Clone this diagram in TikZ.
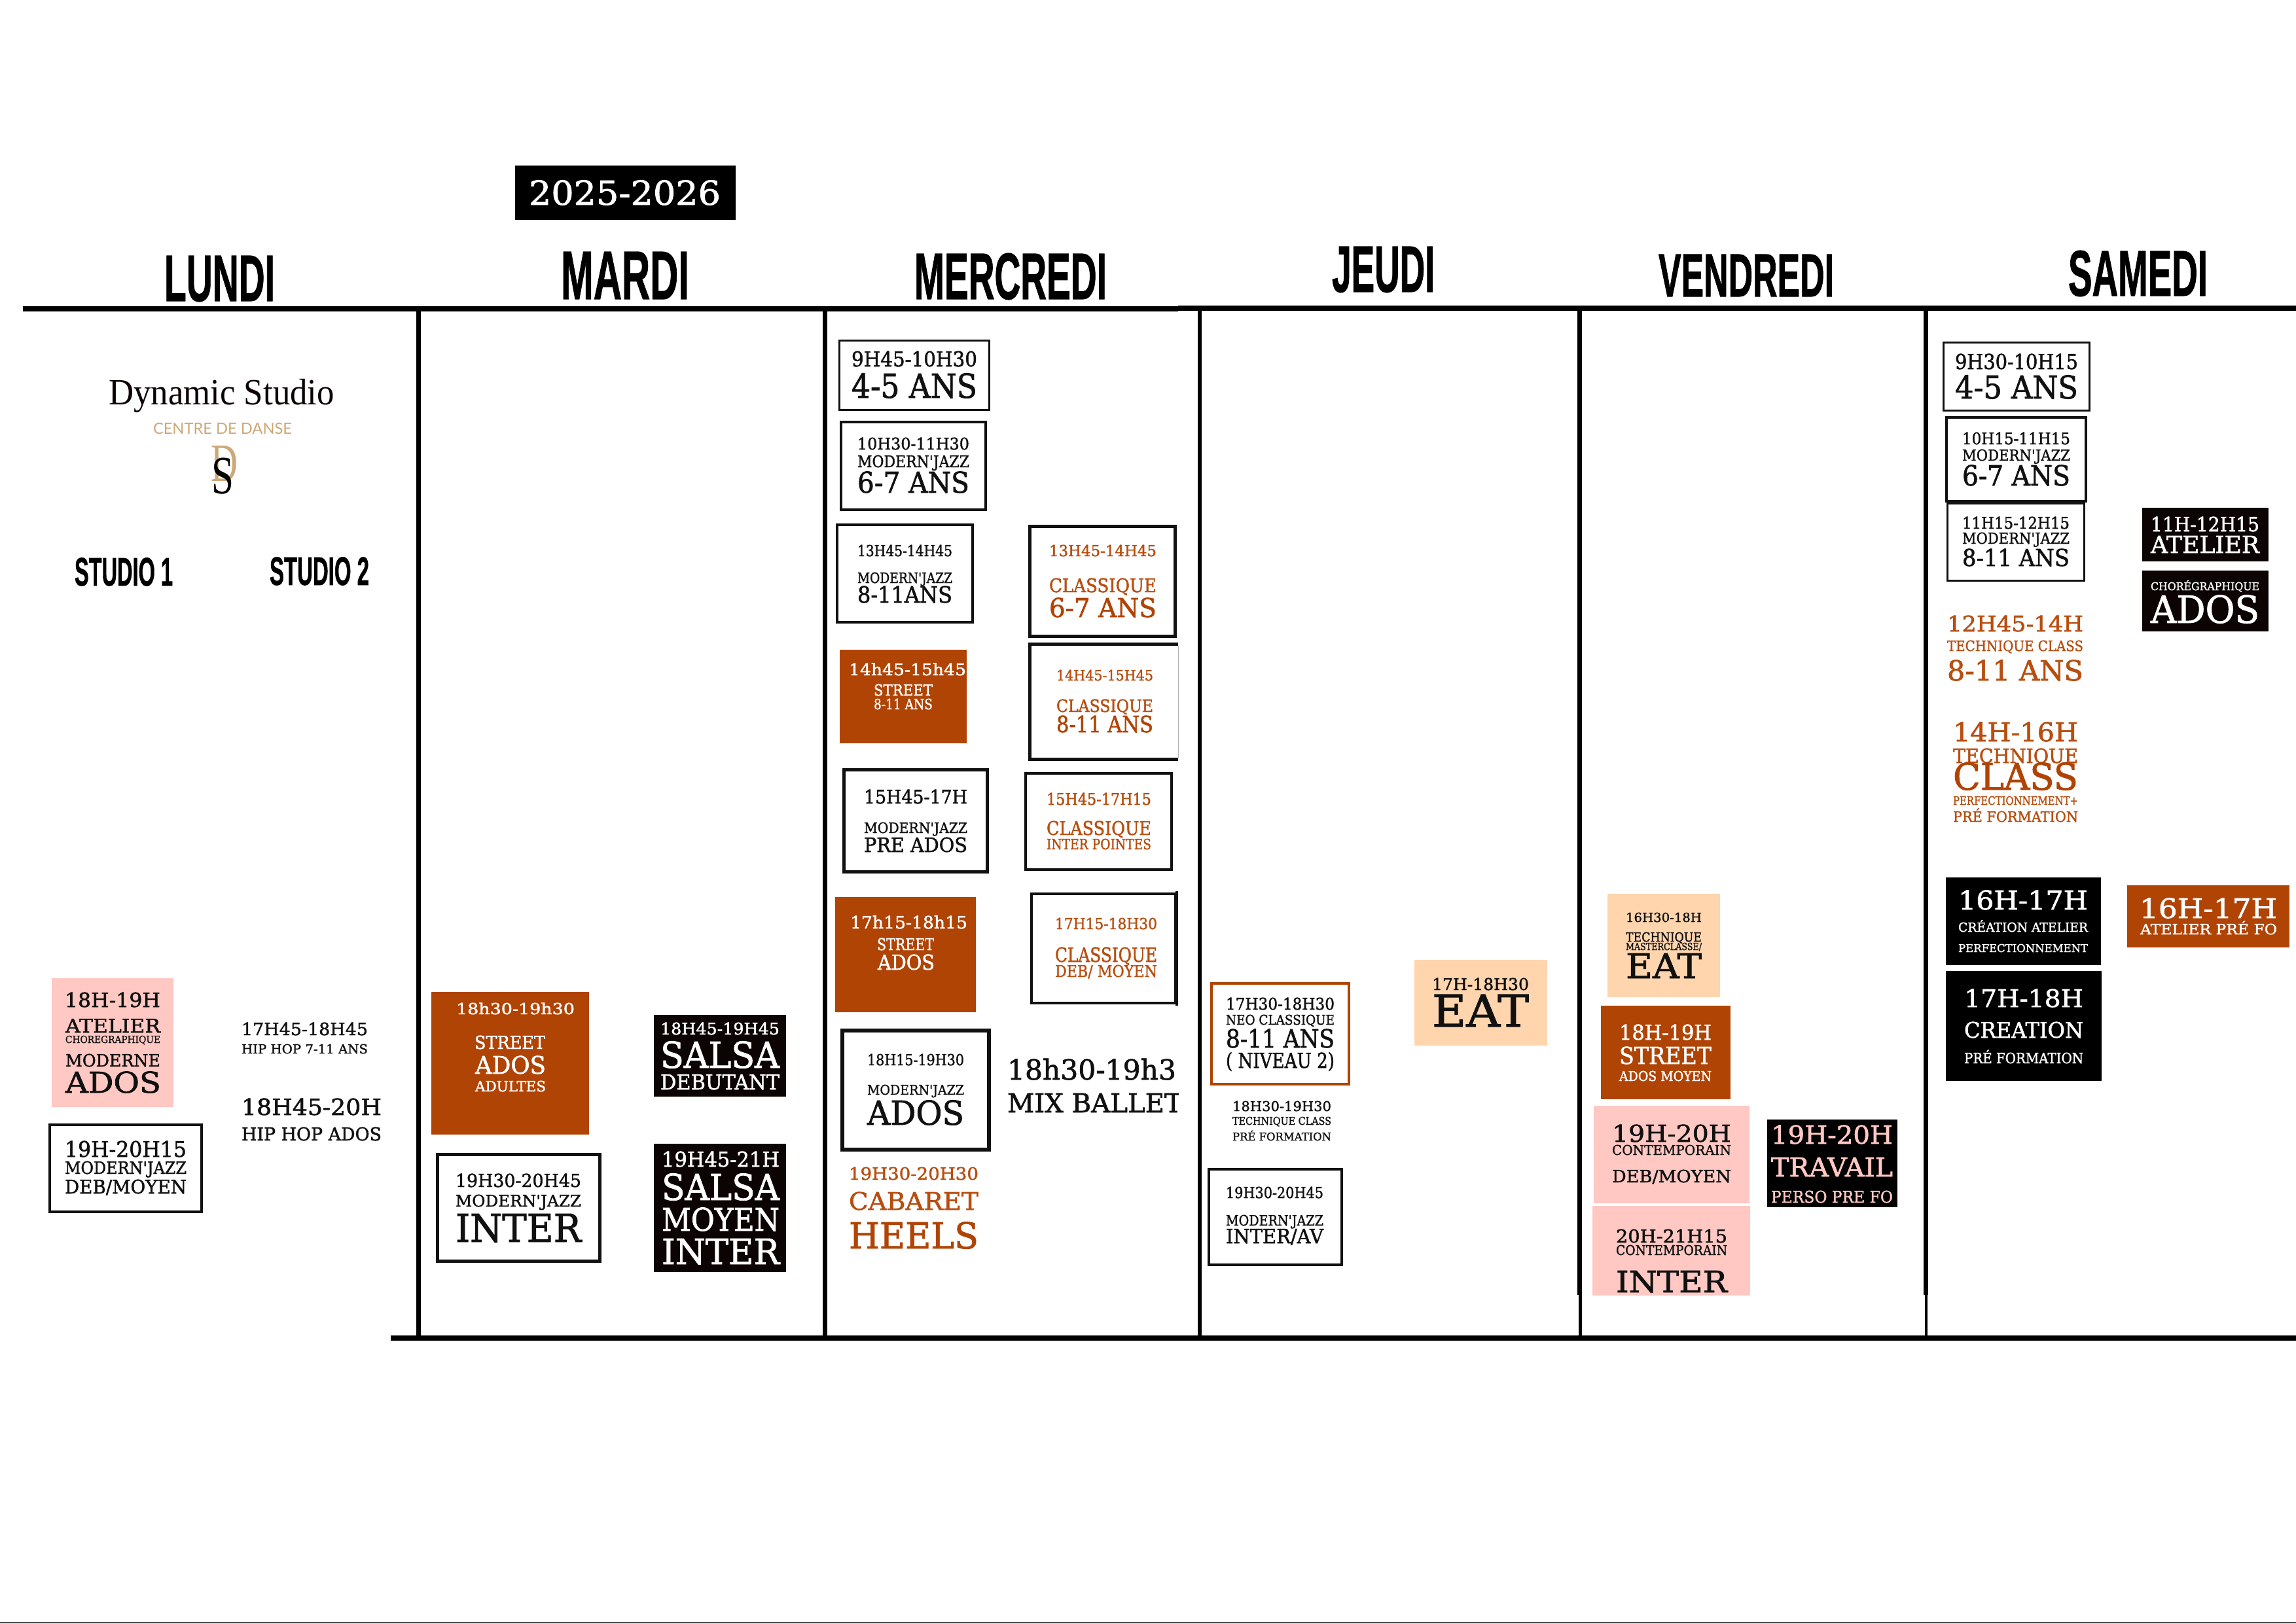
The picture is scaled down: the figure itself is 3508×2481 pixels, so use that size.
\documentclass[tikz,border=0pt]{standalone}
\usepackage{fontspec}
\usepackage{graphicx}
\newfontfamily\sr{DejaVu Serif}[FakeBold=1.6]
\newfontfamily\hd{Liberation Sans}[BoldFont={Liberation Sans Bold},BoldFeatures={FakeBold=1.2}]
\newfontfamily\lgf{Liberation Serif}
\newfontfamily\laf{Lato}
\definecolor{ora}{HTML}{B04405}
\definecolor{otx}{HTML}{B84E10}
\definecolor{pnk}{HTML}{FFC8C3}
\definecolor{pch}{HTML}{FFD5AE}
\definecolor{blk}{HTML}{0C0402}
\definecolor{tan}{HTML}{CDA878}
\definecolor{ink}{HTML}{111111}
\newcounter{tln}
\newcounter{bxn}
% text whose capitals span exactly the given box
\newcommand\capfit[2]{\begingroup#1\fontsize{40}{44}\selectfont\setbox0\hbox{H}\dimen0=\ht0 \setbox2\hbox{#2}\ht2=\dimen0 \dp2=0pt \box2\endgroup}
\newcommand\tln[7][\sr]{\stepcounter{tln}\node[tline,text=#6,name=t\thetln] at ({(#2+#3)/2},{(#4+#5)/2}) {\resizebox{\dimexpr#3pt-#2pt\relax}{\dimexpr#5pt-#4pt\relax}{\capfit{#1}{#7}}};}
% outlined box: outer edges x0 y0 x1 y1, line width
\newcommand\obx[6][ink]{\stepcounter{bxn}\node[obox,draw=#1,line width=#6pt,minimum width={#4-#2-#6},minimum height={#5-#3-#6},name=b\thebxn] at ({(#2+#4)/2},{(#3+#5)/2}) {};}
% filled box
\newcommand\fbx[5]{\stepcounter{bxn}\node[fbox,fill=#5,minimum width={#3-#1},minimum height={#4-#2},name=b\thebxn] at ({(#1+#3)/2},{(#2+#4)/2}) {};}
\tikzset{tline/.style={inner sep=0pt,outer sep=0pt,anchor=center},
 obox/.style={rectangle,inner sep=0pt,outer sep=0pt,fill=white},
 fbox/.style={rectangle,inner sep=0pt,outer sep=0pt,draw=none}}
\begin{document}
\begin{tikzpicture}[x=1pt,y=-1pt]
\useasboundingbox (0,0) rectangle (3508,2481);
\fill[white] (0,0) rectangle (3508,2481);
\fill[black!72] (0,2479) rectangle (3508,2481);
% rules
\fill[black] (35,468) rectangle (1800,476);
\fill[black] (1800,467) rectangle (3508,475);
\fill[black] (597,2041) rectangle (3508,2049);
\fill[black] (636,470) rectangle (643,2045);
\fill[black] (1257,470) rectangle (1264,2045);
\fill[black] (1830,470) rectangle (1836,2045);
\fill[black] (2410,470) rectangle (2417,1979);
\fill[black] (2412,1979) rectangle (2417,2045);
\fill[black] (2939,470) rectangle (2946,1979);
\fill[black] (2941,1979) rectangle (2945,2049);
% title
\fbx{787}{253}{1124}{336}{black}
\tln{808}{1101}{276}{313}{white}{2025-2026}
% headers
\tln[\hd\bfseries]{251}{420}{391}{460}{black}{LUNDI}
\tln[\hd\bfseries]{857}{1053}{385}{457}{black}{MARDI}
\tln[\hd\bfseries]{1397}{1691}{388}{457}{black}{MERCREDI}
\tln[\hd\bfseries]{2035}{2192}{377}{446}{black}{JEUDI}
\tln[\hd\bfseries]{2534}{2802}{389}{453}{black}{VENDREDI}
\tln[\hd\bfseries]{3160}{3373}{384}{452}{black}{SAMEDI}
\tln[\hd\bfseries]{114}{264}{853}{895}{black}{STUDIO 1}
\tln[\hd\bfseries]{412}{564}{852}{894}{black}{STUDIO 2}
% logo
\tln[\lgf]{166}{511}{581}{618}{blk}{Dynamic Studio}
\tln[\laf]{234}{446}{646}{663}{tan}{CENTRE DE DANSE}
\tln[\lgf]{322}{363}{681}{735}{tan}{D}
\tln[\lgf]{323}{357}{700}{754}{black}{S}
% lundi
\fbx{79}{1495}{265}{1692}{pnk}
\tln{99}{245}{1517}{1539}{ink}{18H-19H}
\tln{100}{245}{1557}{1578}{ink}{ATELIER}
\tln{100}{245}{1583}{1594}{ink}{CHOREGRAPHIQUE}
\tln{100}{245}{1611}{1630}{ink}{MODERNE}
\tln{100}{246}{1638}{1670}{ink}{ADOS}
\obx{74}{1717}{310}{1854}{4}
\tln{99}{285}{1744}{1768}{ink}{19H-20H15}
\tln{99}{285}{1775}{1794}{ink}{MODERN'JAZZ}
\tln{99}{285}{1803}{1824}{ink}{DEB/MOYEN}
\tln{369}{562}{1563}{1582}{ink}{17H45-18H45}
\tln{369}{562}{1596}{1610}{ink}{HIP HOP 7-11 ANS}
\tln{369}{583}{1679}{1704}{ink}{18H45-20H}
\tln{369}{583}{1723}{1743}{ink}{HIP HOP ADOS}
% mardi
\fbx{659}{1516}{900}{1734}{ora}
\tln{697}{878}{1533}{1550}{white}{18h30-19h30}
\tln{725}{833}{1583}{1603}{white}{STREET}
\tln{726}{834}{1614}{1641}{white}{ADOS}
\tln{726}{834}{1652}{1668}{white}{ADULTES}
\fbx{999}{1551}{1201}{1676}{blk}
\tln{1009}{1191}{1563}{1581}{white}{18H45-19H45}
\tln{1009}{1191}{1592}{1632}{white}{SALSA}
\tln{1009}{1191}{1642}{1665}{white}{DEBUTANT}
\obx{666}{1762}{919}{1930}{5}
\tln{696}{888}{1794}{1814}{ink}{19H30-20H45}
\tln{696}{888}{1826}{1844}{ink}{MODERN'JAZZ}
\tln{696}{888}{1855}{1898}{ink}{INTER}
\fbx{999}{1748}{1201}{1944}{blk}
\tln{1011}{1191}{1760}{1783}{white}{19H45-21H}
\tln{1011}{1191}{1794}{1834}{white}{SALSA}
\tln{1011}{1191}{1846}{1881}{white}{MOYEN}
\tln{1011}{1191}{1893}{1932}{white}{INTER}
% mercredi
\obx{1281}{519}{1513}{628}{3}
\tln{1301}{1493}{537}{560}{ink}{9H45-10H30}
\tln{1301}{1493}{571}{608}{ink}{4-5 ANS}
\obx{1283}{643}{1508}{781}{4}
\tln{1310}{1481}{669}{687}{ink}{10H30-11H30}
\tln{1310}{1481}{696}{714}{ink}{MODERN'JAZZ}
\tln{1310}{1481}{721}{753}{ink}{6-7 ANS}
\obx{1277}{800}{1488}{953}{4}
\tln{1310}{1455}{833}{850}{ink}{13H45-14H45}
\tln{1310}{1455}{875}{891}{ink}{MODERN'JAZZ}
\tln{1310}{1455}{896}{921}{ink}{8-11ANS}
\obx{1571}{802}{1798}{975}{5}
\tln{1603}{1767}{833}{850}{otx}{13H45-14H45}
\tln{1603}{1767}{884}{905}{otx}{CLASSIQUE}
\tln{1603}{1767}{914}{943}{ora}{6-7 ANS}
\fbx{1283}{993}{1477}{1136}{ora}
\tln{1297}{1476}{1014}{1032}{white}{14h45-15h45}
\tln{1335}{1425}{1046}{1063}{white}{STREET}
\tln{1335}{1425}{1068}{1084}{white}{8-11 ANS}
\draw[ink,line width=5pt] (1800,984.5) -- (1573.5,984.5) -- (1573.5,1160.5) -- (1800,1160.5);
\draw[black!30,line width=1pt] (1800,987) -- (1800,1158);
\tln{1614}{1762}{1024}{1040}{otx}{14H45-15H45}
\tln{1614}{1762}{1069}{1088}{otx}{CLASSIQUE}
\tln{1614}{1762}{1094}{1119}{ora}{8-11 ANS}
\obx{1287}{1174}{1511}{1335}{5}
\tln{1320}{1478}{1207}{1228}{ink}{15H45-17H}
\tln{1320}{1478}{1257}{1273}{ink}{MODERN'JAZZ}
\tln{1320}{1478}{1280}{1302}{ink}{PRE ADOS}
\obx{1565}{1180}{1792}{1331}{4}
\tln{1599}{1759}{1212}{1230}{otx}{15H45-17H15}
\tln{1599}{1759}{1255}{1276}{otx}{CLASSIQUE}
\tln{1599}{1759}{1282}{1298}{otx}{INTER POINTES}
\fbx{1276}{1371}{1491}{1547}{ora}
\tln{1299}{1478}{1400}{1419}{white}{17h15-18h15}
\tln{1340}{1427}{1434}{1452}{white}{STREET}
\tln{1341}{1428}{1459}{1482}{white}{ADOS}
\draw[ink,line width=4pt] (1576,1366) rectangle (1796,1533);
\fill[ink] (1796,1362) rectangle (1800,1537);
\tln{1612}{1768}{1403}{1420}{otx}{17H15-18H30}
\tln{1612}{1768}{1448}{1470}{otx}{CLASSIQUE}
\tln{1612}{1768}{1475}{1493}{otx}{DEB/ MOYEN}
\obx{1284}{1572}{1514}{1760}{6}
\tln{1325}{1473}{1611}{1628}{ink}{18H15-19H30}
\tln{1325}{1473}{1658}{1673}{ink}{MODERN'JAZZ}
\tln{1325}{1473}{1682}{1719}{ink}{ADOS}
\tln{1539}{1797}{1619}{1650}{ink}{18h30-19h3}
\begin{scope}
\clip (1530,1660) rectangle (1801,1710);
\tln{1539}{1806}{1671}{1700}{ink}{MIX BALLET}
\end{scope}
\tln{1297}{1495}{1784}{1803}{otx}{19H30-20H30}
\tln{1297}{1495}{1822}{1849}{otx}{CABARET}
\tln{1297}{1495}{1868}{1908}{ora}{HEELS}
% jeudi
\obx[ora]{1849}{1501}{2063}{1659}{4}
\tln{1873}{2039}{1525}{1543}{ink}{17H30-18H30}
\tln{1873}{2039}{1551}{1566}{ink}{NEO CLASSIQUE}
\tln{1873}{2039}{1573}{1601}{ink}{8-11 ANS}
\tln{1873}{2039}{1609}{1632}{ink}{( NIVEAU 2)}
\fbx{2161}{1467}{2364}{1598}{pch}
\tln{2188}{2336}{1495}{1513}{ink}{17H-18H30}
\tln{2188}{2336}{1520}{1569}{ink}{EAT}
\tln{1883}{2034}{1683}{1698}{ink}{18H30-19H30}
\tln{1883}{2034}{1707}{1719}{ink}{TECHNIQUE CLASS}
\tln{1883}{2034}{1731}{1743}{ink}{PRÉ FORMATION}
\obx{1845}{1785}{2052}{1935}{4}
\tln{1873}{2022}{1814}{1831}{ink}{19H30-20H45}
\tln{1873}{2022}{1857}{1873}{ink}{MODERN'JAZZ}
\tln{1873}{2022}{1878}{1900}{ink}{INTER/AV}
% vendredi
\fbx{2456}{1366}{2628}{1524}{pch}
\tln{2484}{2600}{1395}{1409}{ink}{16H30-18H}
\tln{2484}{2600}{1425}{1439}{ink}{TECHNIQUE}
\tln{2484}{2600}{1441}{1452}{ink}{MASTERCLASSE/}
\tln{2484}{2600}{1457}{1495}{ink}{EAT}
\fbx{2446}{1537}{2644}{1680}{ora}
\tln{2474}{2615}{1566}{1589}{white}{18H-19H}
\tln{2474}{2615}{1600}{1626}{white}{STREET}
\tln{2474}{2615}{1637}{1652}{white}{ADOS MOYEN}
\fbx{2435}{1690}{2673}{1839}{pnk}
\tln{2463}{2645}{1719}{1745}{ink}{19H-20H}
\tln{2463}{2645}{1750}{1765}{ink}{CONTEMPORAIN}
\tln{2463}{2645}{1788}{1807}{ink}{DEB/MOYEN}
\fbx{2433}{1843}{2674}{1980}{pnk}
\tln{2469}{2639}{1879}{1899}{ink}{20H-21H15}
\tln{2469}{2639}{1903}{1918}{ink}{CONTEMPORAIN}
\tln{2469}{2639}{1942}{1975}{ink}{INTER}
\fbx{2700}{1711}{2899}{1845}{black}
\tln{2706}{2892}{1720}{1748}{pnk}{19H-20H}
\tln{2706}{2892}{1769}{1798}{pnk}{TRAVAIL}
\tln{2706}{2892}{1820}{1838}{pnk}{PERSO PRE FO}
% samedi
\obx{2968}{522}{3194}{629}{3}
\tln{2987}{3175}{541}{564}{ink}{9H30-10H15}
\tln{2987}{3175}{574}{609}{ink}{4-5 ANS}
\obx{2974}{768}{3186}{889}{3}
\obx{2972}{636}{3189}{768}{4}
\tln{2998}{3163}{661}{679}{ink}{10H15-11H15}
\tln{2998}{3163}{687}{704}{ink}{MODERN'JAZZ}
\tln{2998}{3163}{711}{742}{ink}{6-7 ANS}
\tln{2998}{3162}{790}{808}{ink}{11H15-12H15}
\tln{2998}{3162}{814}{831}{ink}{MODERN'JAZZ}
\tln{2998}{3162}{839}{865}{ink}{8-11 ANS}
\tln{2975}{3183}{941}{965}{otx}{12H45-14H}
\tln{2975}{3183}{979}{995}{otx}{TECHNIQUE CLASS}
\tln{2975}{3183}{1009}{1040}{otx}{8-11 ANS}
\tln{2984}{3175}{1104}{1133}{otx}{14H-16H}
\tln{2984}{3175}{1144}{1166}{otx}{TECHNIQUE}
\tln{2984}{3175}{1166}{1207}{ora}{CLASS}
\tln{2984}{3175}{1217}{1230}{otx}{PERFECTIONNEMENT+}
\tln{2984}{3175}{1240}{1256}{otx}{PRÉ FORMATION}
\fbx{3273}{776}{3466}{858}{blk}
\tln{3286}{3452}{790}{812}{white}{11H-12H15}
\tln{3286}{3452}{819}{845}{white}{ATELIER}
\fbx{3273}{872}{3466}{965}{blk}
\tln{3286}{3452}{890}{902}{white}{CHORÉGRAPHIQUE}
\tln{3286}{3452}{910}{952}{white}{ADOS}
\fbx{2973}{1341}{3210}{1475}{black}
\tln{2992}{3190}{1361}{1390}{white}{16H-17H}
\tln{2992}{3190}{1410}{1424}{white}{CRÉATION ATELIER}
\tln{2992}{3190}{1443}{1455}{white}{PERFECTIONNEMENT}
\fbx{2973}{1484}{3211}{1652}{black}
\tln{3001}{3183}{1512}{1539}{white}{17H-18H}
\tln{3001}{3183}{1562}{1586}{white}{CREATION}
\tln{3001}{3183}{1609}{1625}{white}{PRÉ FORMATION}
\fbx{3250}{1353}{3498}{1448}{ora}
\tln{3269}{3479}{1373}{1403}{white}{16H-17H}
\tln{3270}{3479}{1412}{1428}{white}{ATELIER PRÉ FO}
\end{tikzpicture}
\end{document}
